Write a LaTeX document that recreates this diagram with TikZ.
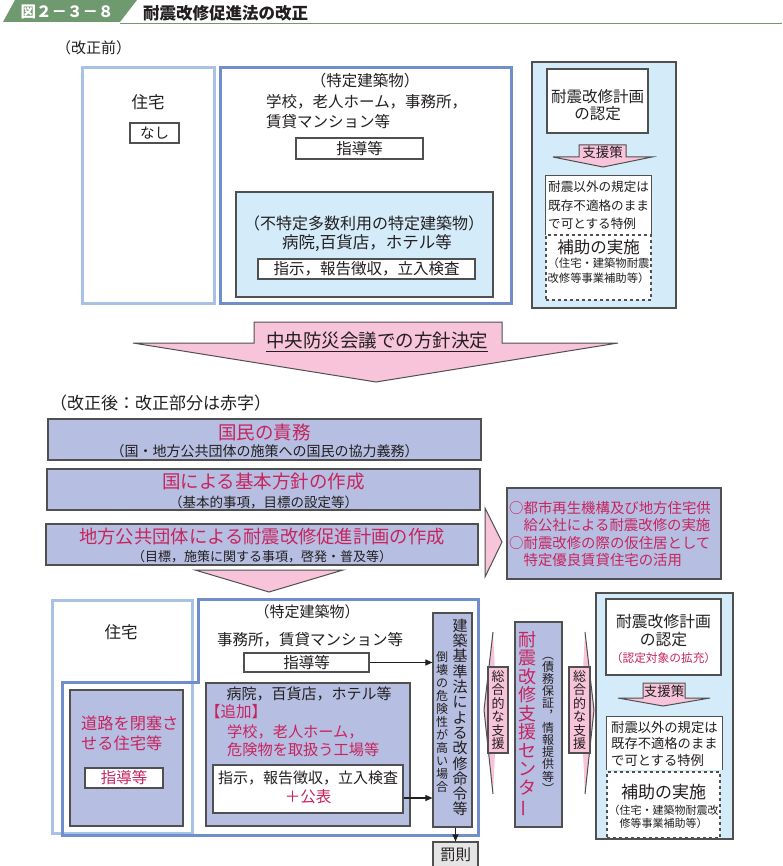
\documentclass[tikz,border=0pt]{standalone}
\usepackage{fontspec}
\setmainfont{Noto Sans CJK JP}
\usetikzlibrary{arrows.meta,calc}
\definecolor{hdgreen}{HTML}{6F9A70}
\definecolor{lbblue}{HTML}{A7C1E7}
\definecolor{dkblue}{HTML}{6F8ECB}
\definecolor{lightfill}{HTML}{D4EBF9}
\definecolor{purp}{HTML}{B6BFE1}
\definecolor{pinkc}{HTML}{F7C4D9}
\definecolor{redc}{HTML}{C7245F}
\definecolor{boxgrey}{HTML}{505050}
\definecolor{txtdark}{HTML}{231F20}
\definecolor{lgrey}{HTML}{E5E5E5}
\newcommand\fs[2]{\fontsize{#1}{#2}\selectfont\lineskiplimit=-20pt\lineskip=0pt}
\begin{document}
\begin{tikzpicture}[x=1pt,y=-1pt,
  txt/.style={inner sep=0pt, text=txtdark},
  redtxt/.style={inner sep=0pt, text=redc},
  gbox/.style={draw=boxgrey, line width=1.2pt, inner sep=0pt, text=txtdark},
  wbox/.style={gbox, fill=white},
  pbox/.style={gbox, fill=purp},
  barbox/.style={draw=boxgrey, line width=2pt, fill=purp, inner sep=0pt},
  lfbox/.style={gbox, fill=lightfill},
  lbframe/.style={draw=lbblue, line width=3pt, inner sep=0pt},
  pinkarrow/.style={fill=pinkc, draw=boxgrey, line width=1pt},
  conn/.style={draw=txtdark, line width=1.1pt, -{Triangle[length=7pt,width=6pt]}}]
\useasboundingbox (0,0) rectangle (782,866);
\fill[white] (0,0) rectangle (782,866);

% ---------- header ----------
\fill[hdgreen] (15,0) -- (137,0) -- (120,22) -- (3,22) -- cycle;
\draw[hdgreen, line width=1.5pt] (120,23.5) -- (782,23.5);
\node[inner sep=0pt, text=white, font=\fs{15.5}{18}\bfseries] (fignum) at (67,12) {図２－３－８};
\node[txt, anchor=west, font=\fs{16.5}{19}\bfseries] (title) at (143,13) {耐震改修促進法の改正};

% ---------- before ----------
\node[txt, anchor=west, font=\fs{15}{17}] (before) at (56,48) {（改正前）};

\node[lbframe, minimum width=132pt, minimum height=235pt] (jut1) at (148,185.5) {};
\node[txt, font=\fs{16.5}{19}] (jut1t) at (148,102) {住宅};
\node[wbox, minimum width=49pt, minimum height=20pt, font=\fs{14.5}{17}] (nashi) at (154.5,133) {なし};

\node[draw=dkblue, line width=3pt, inner sep=0pt, minimum width=291pt, minimum height=235pt] (tok1) at (365.5,185.5) {};
\node[txt, font=\fs{15.5}{18}] (tok1t) at (365,81) {（特定建築物）};
\node[txt, anchor=west, align=left, font=\fs{15.5}{20}] (tok1l) at (266,112) {学校，老人ホーム，事務所，\\賃貸マンション等};
\node[wbox, minimum width=127pt, minimum height=21pt, font=\fs{15.5}{18}] (shido1) at (359.5,148.5) {指導等};

\node[lfbox, minimum width=257pt, minimum height=105pt] (fuku1) at (364.5,244.5) {};
\node[txt, font=\fs{16}{18}] (fuku1t) at (364,223) {（不特定多数利用の特定建築物）};
\node[txt, font=\fs{16.5}{18}] (fuku1l) at (367,243) {病院,百貨店，ホテル等};
\node[wbox, minimum width=217pt, minimum height=20pt, font=\fs{15.5}{18}] (shiji1) at (366.5,269) {指示，報告徴収，立入検査};

% right panel before
\node[lfbox, minimum width=144pt, minimum height=246pt] (pan1) at (604,185) {};
\node[wbox, minimum width=101pt, minimum height=64pt] (nin1) at (597.5,101) {};
\node[txt, align=center, font=\fs{15.5}{16.5}] (nin1t) at (597.5,105) {耐震改修計画\\の認定};
\filldraw[pinkarrow] (579,145) -- (626,145) -- (626,157) -- (652,157) -- (603,167) -- (553,157) -- (579,157) -- cycle;
\node[txt, font=\fs{13.5}{15}] (shien1) at (602.5,152) {支援策};
\node[fill=white, inner sep=0pt, minimum width=105pt, minimum height=59pt] (tokr1) at (598.5,205.5) {};
\draw[boxgrey, line width=1.2pt] (tokr1.south west) |- (tokr1.north east) -- (tokr1.south east);
\node[txt, anchor=west, align=left, font=\fs{12.6}{18.5}] (tokr1t) at (548,205.5) {耐震以外の規定は\\既存不適格のまま\\で可とする特例};
\node[wbox, dashed, minimum width=105pt, minimum height=65pt] (hojo1) at (598.5,267.5) {};
\node[txt, font=\fs{16.5}{18}] (hojo1t) at (598.5,247) {補助の実施};
\node[txt, align=center, font=\fs{11.3}{15}] (hojo1s) at (598.5,270.5) {（住宅・建築物耐震\\改修等事業補助等）};

% ---------- big arrow ----------
\filldraw[pinkarrow] (254,322) -- (502,322) -- (502,343) -- (618,343) -- (376,382) -- (133,343) -- (254,343) -- cycle;
\node[txt, font=\fs{18.5}{20}] (chuo) at (377,342) {\underline{中央防災会議での方針決定}};

% ---------- after ----------
\node[txt, anchor=west, font=\fs{17}{19}] (after) at (50,403) {（改正後：改正部分は赤字）};

\node[barbox, minimum width=433pt, minimum height=41pt] (bar1) at (264.5,439.5) {};
\node[redtxt, font=\fs{18.5}{20}] (bar1t) at (264.5,432) {国民の責務};
\node[txt, font=\fs{14}{16}] (bar1s) at (264.5,451.5) {（国・地方公共団体の施策への国民の協力義務）};

\node[barbox, minimum width=433pt, minimum height=41pt] (bar2) at (263.5,489.5) {};
\node[redtxt, font=\fs{18.5}{20}] (bar2t) at (263.5,482) {国による基本方針の作成};
\node[txt, font=\fs{13.5}{16}] (bar2s) at (263.5,502) {（基本的事項，目標の設定等）};

\node[barbox, minimum width=432pt, minimum height=41pt] (bar3) at (262,544.5) {};
\node[redtxt, font=\fs{18.3}{20}] (bar3t) at (262,537) {地方公共団体による耐震改修促進計画の作成};
\node[txt, font=\fs{13}{16}] (bar3s) at (262,557) {（目標，施策に関する事項，啓発・普及等）};

\filldraw[pinkarrow] (485,508) -- (502,542) -- (485,577) -- cycle;
\node[barbox, minimum width=214pt, minimum height=91pt] (toshi) at (614,533.5) {};
\node[redtxt, anchor=west, align=left, font=\fs{14.4}{17.4}] (toshit) at (509,534) {○都市再生機構及び地方住宅供\\　給公社による耐震改修の実施\\○耐震改修の際の仮住居として\\　特定優良賃貸住宅の活用};

\filldraw[pinkarrow] (195,570) -- (343,570) -- (269,592) -- cycle;

% ---------- bottom left ----------
\node[lbframe, minimum width=140pt, minimum height=233pt] (jut2) at (122,716.5) {};
\draw[dkblue, line width=3pt] (198,599) -- (478,599) -- (478,835) -- (62,835) -- (62,682) -- (198,682) -- cycle;
\node[txt, font=\fs{16.5}{19}] (jut2t) at (121,632) {住宅};
\node[pbox, minimum width=113pt, minimum height=136pt] (douro) at (126.5,758) {};
\node[redtxt, anchor=west, align=left, font=\fs{16.2}{20}] (dourot) at (81,733) {道路を閉塞さ\\せる住宅等};
\node[wbox, minimum width=78pt, minimum height=20pt, text=redc, font=\fs{15.5}{18}] (shido3) at (124,778) {指導等};

\node[txt, font=\fs{15}{17}] (tok2t) at (307,612) {（特定建築物）};
\node[txt, font=\fs{15.5}{18}] (tok2l) at (310,640) {事務所，賃貸マンション等};
\node[wbox, minimum width=125pt, minimum height=19pt, font=\fs{15.5}{18}] (shido2) at (306.5,662.5) {指導等};
\node[pbox, minimum width=204pt, minimum height=143pt] (byoin) at (308,754.5) {};
\node[txt, font=\fs{15}{18}] (byoint) at (309,694) {病院，百貨店，ホテル等};
\node[redtxt, anchor=west, font=\fs{15.5}{18}] (tsuika) at (205,712) {【追加】};
\node[redtxt, anchor=west, align=left, font=\fs{15.2}{18}] (tsuikal) at (227,741) {学校，老人ホーム，\\危険物を取扱う工場等};
\node[wbox, minimum width=190pt, minimum height=48pt] (shiji2) at (308,789) {};
\node[txt, font=\fs{15}{18}] (shiji2t) at (308,778) {指示，報告徴収，立入検査};
\node[redtxt, font=\fs{15.5}{18}] (koho) at (308,797) {＋公表};

\node[pbox, minimum width=39pt, minimum height=214pt] (kenchiku) at (452.5,720) {};
\node[txt, align=center, font=\fs{15}{15.3}] (kenchikut) at (460,717.5) {建\\築\\基\\準\\法\\に\\よ\\る\\改\\修\\命\\令\\等};
\node[txt, align=center, font=\fs{12}{13}] (toukai) at (442,721.5) {倒\\壊\\の\\危\\険\\性\\が\\高\\い\\場\\合};
\node[gbox, fill=lgrey, minimum width=45pt, minimum height=26pt, font=\fs{15.5}{18}] (batsu) at (455.5,855) {罰則};

\draw[conn] (shido2.east) -- (shido2.east -| kenchiku.west);
\draw[conn] ($(shiji2.east)+(0,9)$) -- ($(shiji2.east -| kenchiku.west)+(0,9)$);
\draw[conn] (batsu.north |- kenchiku.south) -- (batsu.north);

% ---------- support arrows & centre ----------
\fill[pinkc] (493,632) -- (484,710) -- (493,794) -- (497,710) -- cycle;
\draw[boxgrey, line width=1pt] (493,632) -- (484,710) -- (493,794);
\node[gbox, fill=pinkc, minimum width=20pt, minimum height=86pt, align=center, font=\fs{13}{13.4}] (sogo1) at (498,710) {総\\合\\的\\な\\支\\援};

\fill[pinkc] (585,632) -- (594,710) -- (585,794) -- (581,710) -- cycle;
\draw[boxgrey, line width=1pt] (585,632) -- (594,710) -- (585,794);
\node[gbox, fill=pinkc, minimum width=21pt, minimum height=86pt, align=center, font=\fs{13}{13.4}] (sogo2) at (579.5,710) {総\\合\\的\\な\\支\\援};

\node[pbox, minimum width=47pt, minimum height=205pt] (center) at (538.5,724.5) {};
\node[redtxt, align=center, font=\fs{18}{18.5}] (centert) at (527,724.5) {耐\\震\\改\\修\\支\\援\\セ\\ン\\タ\\\rotatebox[origin=c]{90}{ー}};
\node[txt, align=center, font=\fs{12}{12.2}] (centers) at (548,725) {︵\\債\\務\\保\\証\\︐\\情\\報\\提\\供\\等\\︶};

% ---------- right panel after ----------
\node[lfbox, minimum width=137pt, minimum height=246pt] (pan2) at (664.5,716) {};
\node[wbox, minimum width=115pt, minimum height=76pt] (nin2) at (663.5,637) {};
\node[txt, align=center, font=\fs{15.8}{18}] (nin2t) at (663.5,631) {耐震改修計画\\の認定};
\node[redtxt, font=\fs{11.7}{14}] (nin2s) at (663.5,658) {（認定対象の拡充）};
\filldraw[pinkarrow] (643,683) -- (685,683) -- (685,698) -- (710,698) -- (663,706) -- (618,698) -- (643,698) -- cycle;
\node[txt, font=\fs{13.5}{15}] (shien2) at (664,691) {支援策};
\node[fill=white, inner sep=0pt, minimum width=115pt, minimum height=53pt] (tokr2) at (664.5,743.5) {};
\draw[boxgrey, line width=1.2pt] (tokr2.south west) |- (tokr2.north east) -- (tokr2.south east);
\node[txt, anchor=west, align=left, font=\fs{13.3}{16.5}] (tokr2t) at (611,743.5) {耐震以外の規定は\\既存不適格のまま\\で可とする特例};
\node[wbox, dashed, minimum width=113pt, minimum height=66pt] (hojo2) at (663.5,805) {};
\node[txt, font=\fs{17}{19}] (hojo2t) at (663.5,792) {補助の実施};
\node[txt, align=center, font=\fs{11}{13}] (hojo2s) at (663.5,816.5) {（住宅・建築物耐震改\\修等事業補助等）};
\end{tikzpicture}
\end{document}
